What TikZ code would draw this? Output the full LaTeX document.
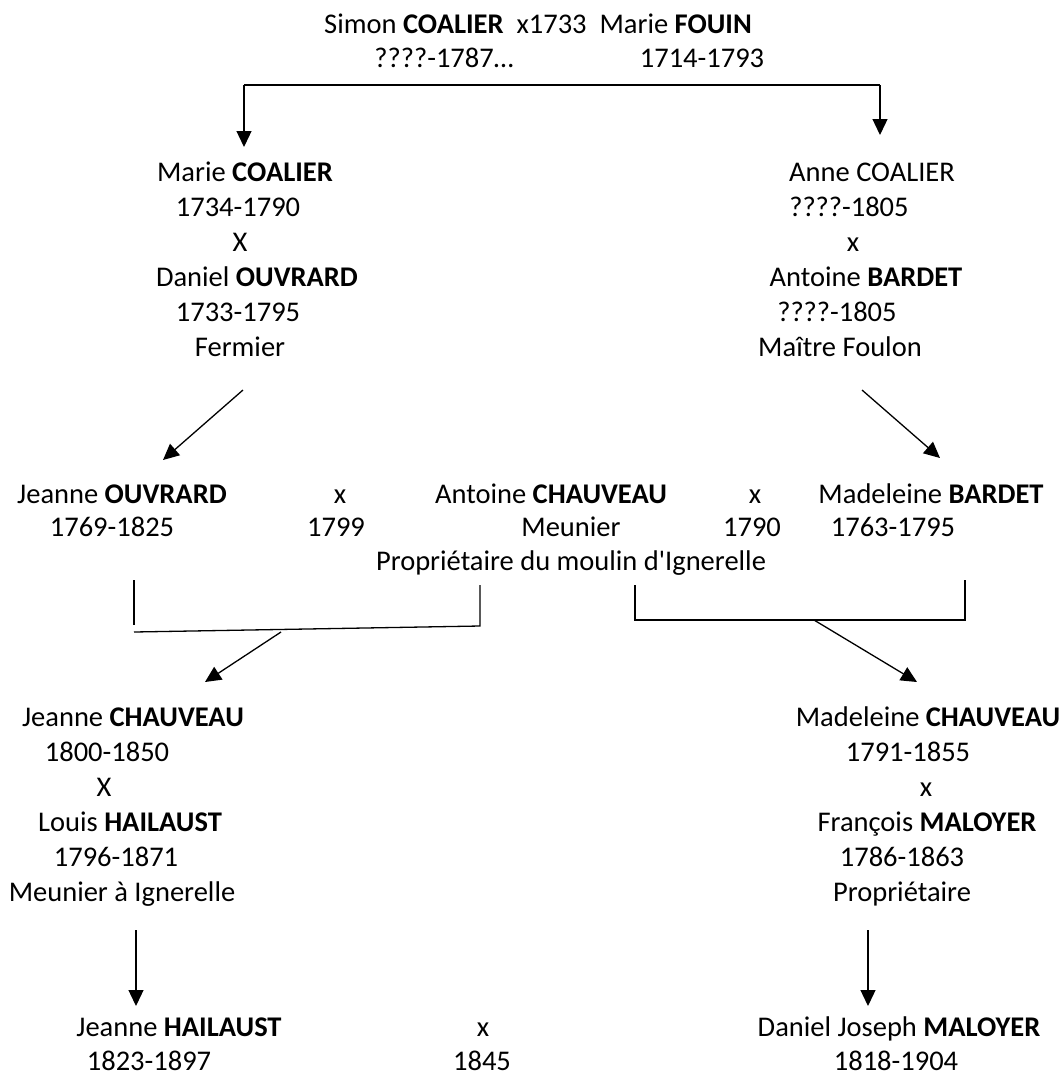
\documentclass[tikz,border=0pt]{standalone}
\usepackage{fontspec}
\setmainfont{Carlito}
\newfontfamily\plainfont{Carlito}
\usetikzlibrary{arrows.meta}
\begin{document}
\begin{tikzpicture}[x=1pt,y=-1pt,
  txt/.style={anchor=base,inner sep=0pt,font=\fontsize{28.5}{34}\selectfont},
  conn/.style={line width=1.3pt},
  arr/.style={conn,-{Triangle[length=16pt,width=15pt]}}]
\useasboundingbox (0,0) rectangle (1062,1077);
% top couple
\node[txt] (t1) at (538,33) {Simon \textbf{COALIER}\ \ x1733\ \ Marie \textbf{FOUIN}};
\node[txt] (t2a) at (444,67) {????-1787…};
\node[txt] (t2b) at (702,67) {1714-1793};
\coordinate (tl) at (244,85);
\coordinate (tr) at (880,85);
\coordinate (tla) at (244,147);
\coordinate (tra) at (880,135);
\draw[conn] (tl) -- (tr);
\draw[arr] (tl) -- (tla);
\draw[arr] (tr) -- (tra);
% left block
\node[txt] (a1) at (245,181) {Marie \textbf{COALIER}};
\node[txt] (a2) at (238,216) {1734-1790};
\node[txt] (a3) at (240,251) {X};
\node[txt] (a4) at (257,286) {Daniel \textbf{OUVRARD}};
\node[txt] (a5) at (238,321) {1733-1795};
\node[txt] (a6) at (240,356) {Fermier};
% right block
\node[txt] (b1) at (872,181) {Anne COALIER};
\node[txt] (b2) at (849,216) {????-1805};
\node[txt] (b3) at (853,251) {x};
\node[txt] (b4) at (866,286) {Antoine \textbf{BARDET}};
\node[txt] (b5) at (837,321) {????-1805};
\node[txt] (b6) at (840,356) {Maître Foulon};
\coordinate (la0) at (243,390);
\coordinate (la1) at (163,460);
\coordinate (ra0) at (862,390);
\coordinate (ra1) at (940,458);
\draw[arr] (la0) -- (la1);
\draw[arr] (ra0) -- (ra1);
% row 3
\node[txt] (c1) at (122,503) {Jeanne \textbf{OUVRARD}};
\node[txt] (c2) at (340,503) {x};
\node[txt] (c3) at (551,503) {Antoine \textbf{CHAUVEAU}};
\node[txt] (c4) at (755,503) {x};
\node[txt] (c5) at (931,503) {Madeleine \textbf{BARDET}};
\node[txt] (d1) at (112,536) {1769-1825};
\node[txt] (d2) at (336,536) {1799};
\node[txt] (d3) at (571,536) {Meunier};
\node[txt] (d4) at (752,536) {1790};
\node[txt] (d5) at (893,536) {1763-1795};
\node[txt] (e1) at (571,570) {\plainfont Propriétaire du moulin d'Ignerelle};
% brackets
\coordinate (p1) at (134,580);
\coordinate (p2) at (134,632);
\coordinate (p3) at (480,626);
\coordinate (p4) at (480,585);
\draw[conn] (p1) -- (134,625);
\draw[conn] (p2) -- (p3) -- (p4);
\coordinate (q1) at (635,585);
\coordinate (q2) at (635,620);
\coordinate (q3) at (965,620);
\coordinate (q4) at (965,580);
\draw[conn] (q1) -- (q2) -- (q3) -- (q4);
\coordinate (pa0) at (281,632);
\coordinate (pa1) at (205,682);
\coordinate (qa0) at (814,620);
\coordinate (qa1) at (917,682);
\draw[arr] (pa0) -- (pa1);
\draw[arr] (qa0) -- (qa1);
% row 4 left
\node[txt] (f1) at (133,726) {Jeanne \textbf{CHAUVEAU}};
\node[txt] (f2) at (107,761) {1800-1850};
\node[txt] (f3) at (104,796) {X};
\node[txt] (f4) at (130,831) {Louis \textbf{HAILAUST}};
\node[txt] (f5) at (116,866) {1796-1871};
\node[txt] (f6) at (122,901) {Meunier à Ignerelle};
% row 4 right
\node[txt] (g1) at (928,726) {Madeleine \textbf{CHAUVEAU}};
\node[txt] (g2) at (908,761) {1791-1855};
\node[txt] (g3) at (926,796) {x};
\node[txt] (g4) at (927,831) {François \textbf{MALOYER}};
\node[txt] (g5) at (902,866) {1786-1863};
\node[txt] (g6) at (902,901) {Propriétaire};
\coordinate (ha0) at (136,930);
\coordinate (ha1) at (136,1006);
\coordinate (ia0) at (868,930);
\coordinate (ia1) at (868,1006);
\draw[arr] (ha0) -- (ha1);
\draw[arr] (ia0) -- (ia1);
% row 5
\node[txt] (h1) at (179,1036) {Jeanne \textbf{HAILAUST}};
\node[txt] (h2) at (483,1036) {x};
\node[txt] (h3) at (899,1036) {Daniel Joseph \textbf{MALOYER}};
\node[txt] (k1) at (149,1070) {1823-1897};
\node[txt] (k2) at (482,1070) {1845};
\node[txt] (k3) at (896,1070) {1818-1904};
\end{tikzpicture}
\end{document}
